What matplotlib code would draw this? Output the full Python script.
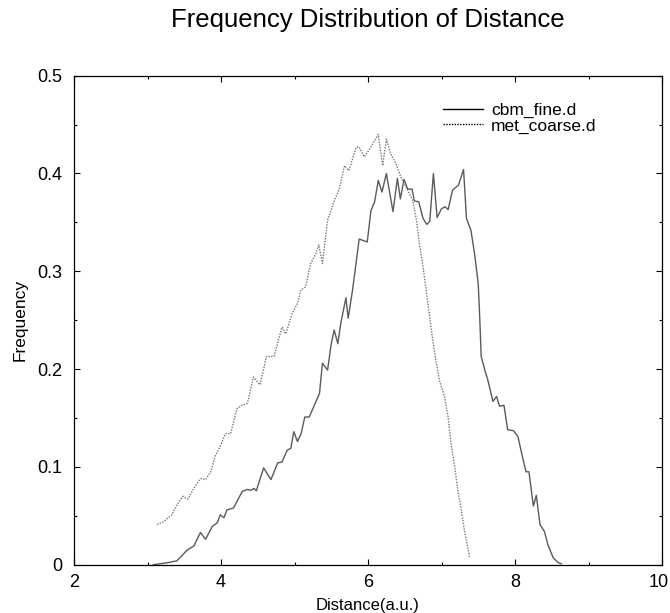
import matplotlib
matplotlib.use('Agg')
import matplotlib.pyplot as plt
from matplotlib.ticker import MultipleLocator

plt.rcParams['font.family'] = ['Liberation Sans', 'DejaVu Sans']

# cbm_fine.d
fine_x = [3.08, 3.27, 3.40, 3.54, 3.63, 3.72, 3.79, 3.88, 3.95, 3.99, 4.04, 4.08, 4.17, 4.29,
          4.36, 4.40, 4.45, 4.48, 4.58, 4.68, 4.77, 4.83, 4.90, 4.95, 4.99, 5.04, 5.09, 5.14,
          5.20, 5.27, 5.34, 5.38, 5.45, 5.50, 5.54, 5.59, 5.63, 5.70, 5.73, 5.79, 5.88, 5.99,
          6.04, 6.09, 6.14, 6.19, 6.25, 6.34, 6.40, 6.44, 6.49, 6.54, 6.60, 6.63, 6.69, 6.75,
          6.80, 6.84, 6.89, 6.94, 7.00, 7.05, 7.09, 7.15, 7.23, 7.30, 7.34, 7.40, 7.45, 7.50,
          7.52, 7.54, 7.59, 7.63, 7.70, 7.75, 7.79, 7.85, 7.90, 7.98, 8.04, 8.09, 8.15, 8.19,
          8.25, 8.29, 8.34, 8.40, 8.45, 8.52, 8.59, 8.63]
fine_y = [0.000, 0.002, 0.004, 0.015, 0.019, 0.033, 0.026, 0.039, 0.043, 0.051, 0.048, 0.056,
          0.058, 0.075, 0.077, 0.076, 0.078, 0.0755, 0.099, 0.087, 0.104, 0.105, 0.117, 0.119,
          0.136, 0.126, 0.134, 0.151, 0.151, 0.163, 0.175, 0.206, 0.199, 0.226, 0.240, 0.226,
          0.247, 0.273, 0.252, 0.281, 0.333, 0.330, 0.362, 0.371, 0.393, 0.381, 0.400, 0.361,
          0.395, 0.374, 0.394, 0.384, 0.384, 0.372, 0.371, 0.354, 0.348, 0.351, 0.400, 0.355,
          0.364, 0.366, 0.363, 0.383, 0.388, 0.404, 0.354, 0.342, 0.318, 0.287, 0.253, 0.213,
          0.199, 0.189, 0.167, 0.172, 0.162, 0.163, 0.138, 0.137, 0.131, 0.114, 0.095, 0.095,
          0.060, 0.071, 0.041, 0.034, 0.020, 0.007, 0.002, 0.001]

# met_coarse.d
coarse_x = [3.13, 3.22, 3.33, 3.40, 3.48, 3.55, 3.63, 3.72, 3.79, 3.86, 3.92, 3.99, 4.06, 4.13,
            4.22, 4.29, 4.36, 4.44, 4.53, 4.62, 4.72, 4.83, 4.88, 4.97, 5.04, 5.09, 5.15, 5.22,
            5.29, 5.33, 5.38, 5.45, 5.54, 5.61, 5.68, 5.74, 5.84, 5.88, 5.95, 6.04, 6.14, 6.20,
            6.25, 6.31, 6.38, 6.45, 6.54, 6.61, 6.66, 6.70, 6.75, 6.79, 6.84, 6.88, 6.93, 6.97,
            7.04, 7.09, 7.13, 7.18, 7.22, 7.27, 7.31, 7.38]
coarse_y = [0.041, 0.044, 0.051, 0.061, 0.070, 0.067, 0.078, 0.088, 0.087, 0.095, 0.111, 0.121,
            0.134, 0.134, 0.160, 0.163, 0.165, 0.192, 0.184, 0.213, 0.213, 0.243, 0.236, 0.257,
            0.267, 0.281, 0.284, 0.308, 0.318, 0.327, 0.308, 0.352, 0.372, 0.384, 0.408, 0.403,
            0.427, 0.427, 0.417, 0.427, 0.440, 0.408, 0.435, 0.420, 0.410, 0.396, 0.383, 0.372,
            0.352, 0.328, 0.304, 0.281, 0.253, 0.230, 0.206, 0.189, 0.172, 0.151, 0.124, 0.100,
            0.077, 0.056, 0.036, 0.008]

W, H = 670, 613
fig = plt.figure(figsize=(W/100, H/100), dpi=100)
ax = fig.add_axes([74/W, 1 - 564.7/H, (662-74)/W, (564.7-75.7)/H])

ax.plot(fine_x, fine_y, color='#5a5a5a', linewidth=1.0, label='cbm_fine.d')
ax.plot(coarse_x, coarse_y, color='#777777', linewidth=1.0, linestyle=(0, (1, 1)),
        label='met_coarse.d')

ax.set_xlim(2, 10)
ax.set_ylim(0, 0.5)
ax.xaxis.set_major_locator(MultipleLocator(2))
ax.xaxis.set_minor_locator(MultipleLocator(1))
ax.yaxis.set_major_locator(MultipleLocator(0.1))
ax.yaxis.set_minor_locator(MultipleLocator(0.05))
# the "10" at the right edge is drawn separately so it is not cut off
ax.xaxis.set_major_formatter(plt.FuncFormatter(lambda v, p: '' if v >= 10 else f'{v:g}'))
ax.yaxis.set_major_formatter(plt.FuncFormatter(lambda v, p: '0' if v == 0 else f'{v:.1f}'))
ax.tick_params(which='both', direction='in', top=True, right=True, labelsize=13, width=0.8)
ax.tick_params(which='major', length=4.5)
ax.tick_params(which='minor', length=2.5)
ax.tick_params(axis='y', pad=8.6)
ax.tick_params(axis='x', pad=6.5)
for s in ax.spines.values():
    s.set_linewidth(0.9)

fig.text(668.5/W, 1 - 573.7/H, '10', fontsize=13, ha='right', va='top')

ax.set_xlabel('Distance(a.u.)', fontsize=12, labelpad=5)
ax.set_ylabel('Frequency', fontsize=12.5, labelpad=7)
fig.text(367.5/W, 1 - 27/H, 'Frequency Distribution of Distance', fontsize=18.5,
         ha='center', va='baseline')

leg = ax.legend(loc='upper left', bbox_to_anchor=(0.627, 0.945), frameon=False, fontsize=12.5,
                handlelength=2.3, labelspacing=0.02, handletextpad=0.5,
                borderpad=0, borderaxespad=0)
for h in leg.get_lines():
    h.set_color('black')

fig.savefig('out.png', dpi=100)
